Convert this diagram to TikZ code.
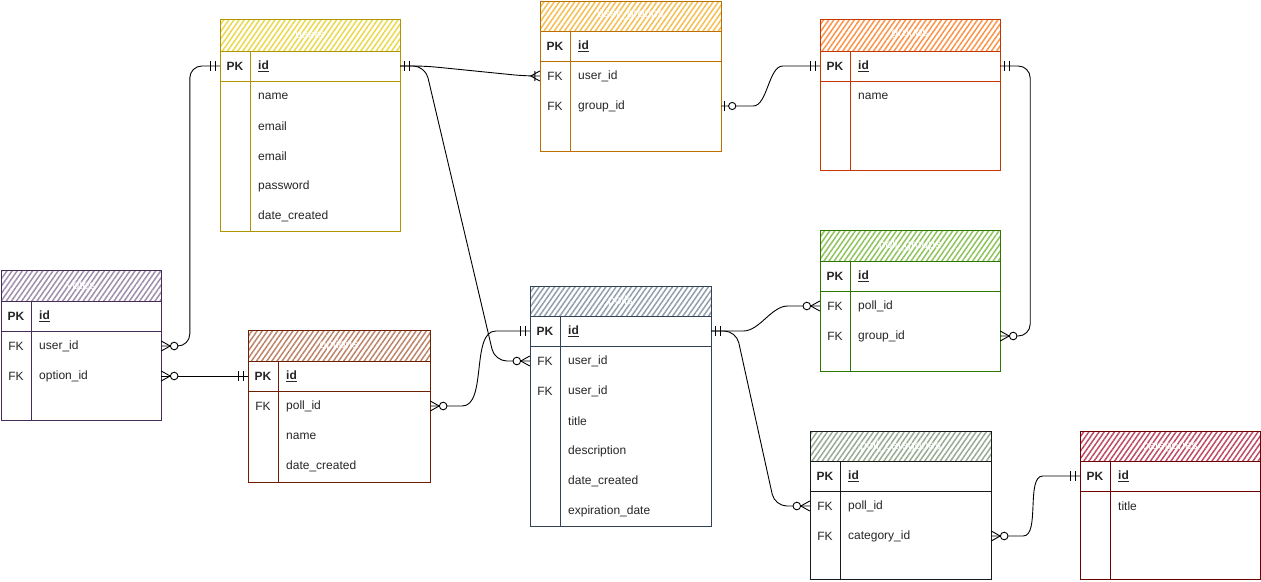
\documentclass[tikz,border=0pt]{standalone}
\usepackage{fontspec}
\setmainfont{Liberation Sans}
\usetikzlibrary{calc,patterns.meta,decorations.markings}

\definecolor{usS}{HTML}{B09500}\definecolor{usF}{HTML}{E3C800}
\definecolor{ugS}{HTML}{BD7000}\definecolor{ugF}{HTML}{F0A30A}
\definecolor{grS}{HTML}{C73500}\definecolor{grF}{HTML}{FA6800}
\definecolor{voS}{HTML}{432D57}\definecolor{voF}{HTML}{76608A}
\definecolor{opS}{HTML}{6D1F00}\definecolor{opF}{HTML}{A0522D}
\definecolor{poS}{HTML}{314354}\definecolor{poF}{HTML}{647687}
\definecolor{pgS}{HTML}{2D7600}\definecolor{pgF}{HTML}{60A917}
\definecolor{pcS}{HTML}{1A1A1A}\definecolor{pcF}{HTML}{6D8764}
\definecolor{caS}{HTML}{6F0000}\definecolor{caF}{HTML}{A20025}

% ER end markers, d>0 = away from the table
\tikzset{mk/.style={line width=0.9pt, sharp corners, draw=black}}
\newcommand\ermone[1]{\begin{scope}[xscale=#1]\draw[mk] (4,-5)--(4,5) (9,-5)--(9,5);\end{scope}}
\newcommand\ermzmany[1]{\begin{scope}[xscale=#1]\draw[mk] (0,-5)--(9,0)--(0,5);\draw[mk,fill=white] (13,0) circle (3.8);\end{scope}}
\newcommand\ermomany[1]{\begin{scope}[xscale=#1]\draw[mk] (0,-5)--(9,0)--(0,5) (5,-5)--(5,5);\end{scope}}
\newcommand\ermzone[1]{\begin{scope}[xscale=#1]\draw[mk] (3,-5)--(3,5);\draw[mk,fill=white] (11,0) circle (3.6);\end{scope}}

\tikzset{
  conn/.style={draw=black, line width=0.9pt, rounded corners=12pt},
  s one/.style={postaction={decorate,decoration={markings,mark=at position 0 with {\ermone{1}}}}},
  e one/.style={postaction={decorate,decoration={markings,mark=at position 1 with {\ermone{-1}}}}},
  s zmany/.style={postaction={decorate,decoration={markings,mark=at position 0 with {\ermzmany{1}}}}},
  e zmany/.style={postaction={decorate,decoration={markings,mark=at position 1 with {\ermzmany{-1}}}}},
  e omany/.style={postaction={decorate,decoration={markings,mark=at position 1 with {\ermomany{-1}}}}},
  s zone/.style={postaction={decorate,decoration={markings,mark=at position 0 with {\ermzone{1}}}}},
  rowbox/.style={inner sep=0pt, minimum height=30pt},
  keytxt/.style={inner sep=0pt, anchor=center, font=\fontsize{12}{14}\selectfont, text=black!85},
  fldtxt/.style={inner sep=0pt, anchor=west, font=\fontsize{12}{14}\selectfont, text=black!85},
  ttl/.style={inner sep=0pt, text=white, font=\fontsize{12}{14}\selectfont},
  hatch/.style={pattern={Lines[angle=55,distance=4.2pt,line width=1.5pt]}},
}

% #1 name, #2 x, #3 top, #4 header bottom, #5 width, #6 bottom, #7 stroke, #8 fill, #9 title
\newcommand\ertable[9]{%
  \def\tn{#1}\def\tx{#2}\def\thb{#4}\def\tw{#5}%
  \path[hatch, pattern color=#8!70] (#2,#3) rectangle ({#2+#5},#4);
  \draw[#7, line width=1pt] (#2,#3) rectangle ({#2+#5},#6);
  \draw[#7, line width=1pt] (#2,#4) -- ({#2+#5},#4);
  \draw[#7, line width=1pt] (#2,{#4+30}) -- ({#2+#5},{#4+30});
  \draw[#7, line width=1pt] ({#2+30},#4) -- ({#2+30},#6);
  \node[ttl] (#1-t) at ({#2+#5/2},{(#3+#4)/2}) {#9};
}
\newcommand\erow[3]{%
  \node[rowbox, minimum width=\tw] (\tn-r#1) at ({\tx+\tw/2},{\thb+15+30*(#1-1)}) {};
  \node[keytxt] (\tn-k#1) at ({\tx+15},{\thb+15+30*(#1-1)}) {#2};
  \node[fldtxt] (\tn-f#1) at ({\tx+38},{\thb+15+30*(#1-1)}) {#3};
}
\newcommand\pkrow{\erow{1}{\textbf{PK}}{\textbf{\underline{id}}}}

\begin{document}
\begin{tikzpicture}[x=1pt,y=-1pt]
\useasboundingbox (0,0) rectangle (1261,581);
\fill[white] (0,0) rectangle (1261,581);

\ertable{users}{220}{19}{51}{180}{231}{usS}{usF}{users}
\pkrow
\erow{2}{}{name}\erow{3}{}{email}\erow{4}{}{email}\erow{5}{}{password}\erow{6}{}{date\_created}

\ertable{usergroups}{540}{1}{31}{181}{151}{ugS}{ugF}{user\_groups}
\pkrow
\erow{2}{FK}{user\_id}\erow{3}{FK}{group\_id}

\ertable{groups}{820}{19}{51}{180}{170}{grS}{grF}{groups}
\pkrow
\erow{2}{}{name}

\ertable{votes}{1}{270}{301}{160}{420}{voS}{voF}{votes}
\pkrow
\erow{2}{FK}{user\_id}\erow{3}{FK}{option\_id}

\ertable{options}{248}{330}{361}{182}{482}{opS}{opF}{options}
\pkrow
\erow{2}{FK}{poll\_id}\erow{3}{}{name}\erow{4}{}{date\_created}

\ertable{polls}{530}{286}{316}{181}{526}{poS}{poF}{polls}
\pkrow
\erow{2}{FK}{user\_id}\erow{3}{FK}{user\_id}\erow{4}{}{title}\erow{5}{}{description}\erow{6}{}{date\_created}\erow{7}{}{expiration\_date}

\ertable{pollgroups}{820}{230}{261}{180}{371}{pgS}{pgF}{poll\_groups}
\pkrow
\erow{2}{FK}{poll\_id}\erow{3}{FK}{group\_id}

\ertable{pollcats}{810}{431}{461}{181}{579}{pcS}{pcF}{poll\_categories}
\pkrow
\erow{2}{FK}{poll\_id}\erow{3}{FK}{category\_id}

\ertable{categories}{1080}{431}{461}{180}{579}{caS}{caF}{categories}
\pkrow
\erow{2}{}{title}

% connectors
\draw[conn, s zmany, e one] (votes-r2.east) -| ($(users-r1.west)+(-30,0)$) -- (users-r1.west);
\draw[conn, s zmany, e one] (votes-r3.east) -- (options-r1.west);
\draw[conn, s zmany, e one] (options-r2.east) -- ($(options-r2.east)+(20,0)$) to[out=0,in=180] ($(polls-r1.west)+(-22,0)$) -- (polls-r1.west);
\draw[conn, s one, e omany] (users-r1.east) -- ($(users-r1.east)+(25,0)$) -- ($(usergroups-r2.west)+(-15,0)$) -- (usergroups-r2.west);
\draw[conn, e zmany] (users-r1.east) -- ($(users-r1.east)+(25,0)$) -- ($(polls-r2.west)+(-35,0)$) -- (polls-r2.west);
\draw[conn, s zone, e one] (usergroups-r3.east) -- ($(usergroups-r3.east)+(20,0)$) to[out=0,in=180] ($(groups-r1.west)+(-25,0)$) -- (groups-r1.west);
\draw[conn, s one, e zmany] (groups-r1.east) -- ($(groups-r1.east)+(30,0)$) |- (pollgroups-r3.east);
\draw[conn, s one, e zmany] (polls-r1.east) -- ($(polls-r1.east)+(20,0)$) to[out=0,in=180] ($(pollgroups-r2.west)+(-20,0)$) -- (pollgroups-r2.west);
\draw[conn, s one, e zmany] (polls-r1.east) -- ($(polls-r1.east)+(25,0)$) -- ($(pollcats-r2.west)+(-35,0)$) -- (pollcats-r2.west);
\draw[conn, s zmany, e one] (pollcats-r3.east) -- ($(pollcats-r3.east)+(20,0)$) to[out=0,in=180] ($(categories-r1.west)+(-25,0)$) -- (categories-r1.west);
\end{tikzpicture}
\end{document}
